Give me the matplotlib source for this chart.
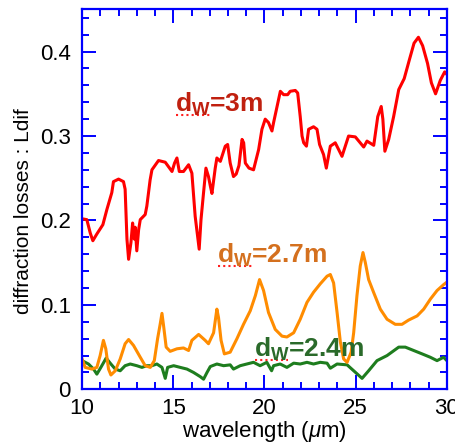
import numpy as np
import matplotlib
matplotlib.use("Agg")
import matplotlib.pyplot as plt
from matplotlib.ticker import MultipleLocator

plt.rcParams["font.family"] = ["Liberation Sans", "DejaVu Sans"]
plt.rcParams["mathtext.fontset"] = "custom"
plt.rcParams["mathtext.rm"] = "Liberation Sans"
plt.rcParams["mathtext.it"] = "Liberation Sans:italic"
plt.rcParams["mathtext.bf"] = "Liberation Sans:bold"

# diffraction losses, one curve per telescope size
wl_3m = [10.0, 10.26, 10.45, 10.59, 10.81, 11.14, 11.36, 11.63, 11.72, 12.0,
         12.27, 12.36, 12.46, 12.55, 12.68, 12.77, 12.86, 12.91, 13.0, 13.1,
         13.19, 13.46, 13.55, 13.73, 13.83, 14.19, 14.56, 14.93, 15.07, 15.2,
         15.33, 15.56, 15.84, 16.02, 16.2, 16.42, 16.52, 16.66, 16.79, 16.93,
         17.03, 17.12, 17.3, 17.39, 17.58, 17.85, 17.98, 18.12, 18.3, 18.45,
         18.6, 18.77, 18.86, 18.95, 19.15, 19.4, 19.68, 19.86, 20.04, 20.22,
         20.41, 20.5, 20.69, 20.87, 21.05, 21.27, 21.41, 21.69, 21.82, 21.96,
         22.06, 22.15, 22.3, 22.42, 22.69, 22.88, 23.02, 23.24, 23.39, 23.61,
         23.88, 24.25, 24.61, 24.98, 25.44, 25.62, 25.99, 26.21, 26.4, 26.49,
         26.6, 26.81, 27.08, 27.36, 27.66, 27.94, 28.2, 28.44, 28.67, 28.94,
         29.15, 29.38, 29.64, 29.88, 30.0]
loss_3m = [0.202, 0.201, 0.185, 0.176, 0.184, 0.195, 0.213, 0.233, 0.246, 0.249,
           0.246, 0.237, 0.178, 0.154, 0.174, 0.197, 0.178, 0.192, 0.164, 0.189,
           0.201, 0.207, 0.217, 0.248, 0.260, 0.271, 0.269, 0.258, 0.268, 0.274,
           0.258, 0.258, 0.266, 0.256, 0.205, 0.166, 0.201, 0.233, 0.262, 0.252,
           0.241, 0.232, 0.262, 0.274, 0.270, 0.288, 0.290, 0.268, 0.252, 0.255,
           0.265, 0.296, 0.292, 0.268, 0.262, 0.260, 0.284, 0.308, 0.320, 0.316,
           0.306, 0.316, 0.335, 0.353, 0.349, 0.349, 0.353, 0.354, 0.351, 0.323,
           0.300, 0.292, 0.288, 0.308, 0.311, 0.308, 0.290, 0.278, 0.262, 0.288,
           0.292, 0.276, 0.300, 0.299, 0.287, 0.294, 0.289, 0.323, 0.335, 0.320,
           0.282, 0.296, 0.323, 0.355, 0.368, 0.390, 0.410, 0.417, 0.407, 0.386,
           0.363, 0.350, 0.366, 0.376, 0.373]

wl_27m = [10.0, 10.17, 10.54, 10.81, 10.99, 11.17, 11.3, 11.45, 11.58, 11.82,
          12.09, 12.36, 12.55, 12.82, 13.19, 13.46, 13.74, 13.96, 14.14, 14.28,
          14.38, 14.47, 14.61, 14.83, 15.2, 15.56, 15.84, 16.02, 16.39, 16.75,
          16.93, 17.21, 17.39, 17.48, 17.62, 17.8, 18.12, 18.49, 18.85, 19.22,
          19.5, 19.73, 19.95, 20.22, 20.59, 20.96, 21.23, 21.6, 21.96, 22.33,
          22.69, 23.06, 23.43, 23.61, 23.79, 23.98, 24.16, 24.34, 24.53, 24.75,
          24.89, 25.07, 25.25, 25.4, 25.53, 25.71, 25.98, 26.35, 26.72, 27.17,
          27.54, 27.9, 28.37, 28.73, 29.1, 29.46, 29.82, 30.0]
loss_27m = [0.036, 0.026, 0.024, 0.026, 0.040, 0.058, 0.048, 0.024, 0.017, 0.022,
            0.036, 0.054, 0.059, 0.052, 0.038, 0.028, 0.026, 0.034, 0.060, 0.077,
            0.090, 0.075, 0.050, 0.045, 0.048, 0.049, 0.046, 0.058, 0.065, 0.058,
            0.054, 0.067, 0.095, 0.085, 0.058, 0.042, 0.044, 0.060, 0.077, 0.093,
            0.111, 0.130, 0.117, 0.091, 0.071, 0.063, 0.062, 0.067, 0.083, 0.103,
            0.115, 0.125, 0.134, 0.136, 0.126, 0.091, 0.056, 0.036, 0.032, 0.044,
            0.067, 0.111, 0.146, 0.162, 0.150, 0.130, 0.115, 0.095, 0.083, 0.077,
            0.077, 0.082, 0.087, 0.095, 0.107, 0.117, 0.124, 0.127]

wl_24m = [10.0, 10.35, 10.63, 10.81, 11.03, 11.32, 11.58, 11.82, 12.09, 12.36,
          12.64, 13.0, 13.28, 13.55, 13.83, 14.1, 14.38, 14.56, 14.69, 15.02,
          15.38, 15.75, 16.11, 16.48, 16.66, 16.85, 17.03, 17.39, 17.76, 18.12,
          18.3, 18.67, 19.03, 19.4, 19.76, 20.13, 20.39, 20.5, 20.86, 21.23,
          21.6, 21.96, 22.33, 22.69, 23.06, 23.43, 23.61, 23.98, 24.53, 24.89,
          25.35, 25.71, 26.17, 26.72, 27.36, 27.72, 28.18, 28.64, 29.09, 29.46,
          29.82, 30.0]
loss_24m = [0.034, 0.030, 0.024, 0.018, 0.026, 0.037, 0.030, 0.024, 0.022, 0.028,
            0.030, 0.028, 0.026, 0.028, 0.028, 0.030, 0.026, 0.013, 0.026, 0.028,
            0.026, 0.024, 0.020, 0.015, 0.012, 0.020, 0.027, 0.030, 0.028, 0.029,
            0.024, 0.028, 0.030, 0.032, 0.028, 0.032, 0.022, 0.028, 0.030, 0.026,
            0.031, 0.030, 0.032, 0.030, 0.032, 0.031, 0.025, 0.030, 0.029, 0.022,
            0.013, 0.022, 0.034, 0.040, 0.050, 0.050, 0.046, 0.042, 0.038, 0.034,
            0.038, 0.034]

labels = ["=3m", "=2.7m", "=2.4m"]
label_colors = ["#c0200f", "#d4701e", "#2a6a2a"]

fig = plt.figure(figsize=(4.56, 4.47), dpi=100)
ax = fig.add_axes([0.180, 0.129, 0.800, 0.850])

ax.plot(wl_24m, loss_24m, color="#1e7d1e", lw=2.2)
ax.plot(wl_27m, loss_27m, color="#ff8c00", lw=2.2)
ax.plot(wl_3m, loss_3m, color="#ff0000", lw=2.2)

ax.set_xlim(10, 30)
ax.set_ylim(0, 0.45)
ax.xaxis.set_major_locator(MultipleLocator(5))
ax.xaxis.set_minor_locator(MultipleLocator(1))
ax.yaxis.set_major_locator(MultipleLocator(0.1))
ax.yaxis.set_minor_locator(MultipleLocator(0.02))
ax.set_yticks([0, 0.1, 0.2, 0.3, 0.4])
ax.set_yticklabels(["0", "0.1", "0.2", "0.3", "0.4"])

for side in ax.spines.values():
    side.set_color("#0000ff")
    side.set_linewidth(1.6)
ax.tick_params(which="both", direction="in", top=True, right=True,
               color="#0000ff", width=1.4, labelsize=16)
ax.tick_params(which="major", length=10)
ax.tick_params(which="minor", length=5)
ax.tick_params(axis="y", pad=8)
ax.tick_params(axis="x", pad=6)

ax.set_xlabel(r"wavelength ($\mu$m)", fontsize=16, labelpad=0)
ax.set_ylabel("diffraction losses : Ldif", fontsize=15, labelpad=5)
ax.yaxis.label.set_y(0.47)

# curve labels, with the red dotted underline under d_W
label_pos = [(15.11, 0.329), (17.39, 0.150), (19.4, 0.038)]
fig.canvas.draw()
renderer = fig.canvas.get_renderer()
for (lx, ly), txt, col in zip(label_pos, labels, label_colors):
    ax.text(lx, ly, r"$\mathbf{d}_\mathbf{W}$" + txt, color=col,
            fontsize=19, fontweight="bold", va="baseline", ha="left")
    probe = ax.text(lx, ly, r"$\mathbf{d}_\mathbf{W}$", fontsize=19,
                    fontweight="bold", va="baseline", ha="left", alpha=0)
    bb = probe.get_window_extent(renderer)
    inv = ax.transData.inverted()
    x0, _ = inv.transform((bb.x0 + 1, 0))
    x1, _ = inv.transform((bb.x1 - 1, 0))
    _, y0 = inv.transform((0, ax.transData.transform((lx, ly))[1] - 3))
    ax.plot([x0, x1], [y0, y0], color="#ff2020", lw=1.5, ls=(0, (1, 1.5)))

fig.savefig("out.png", dpi=100)
